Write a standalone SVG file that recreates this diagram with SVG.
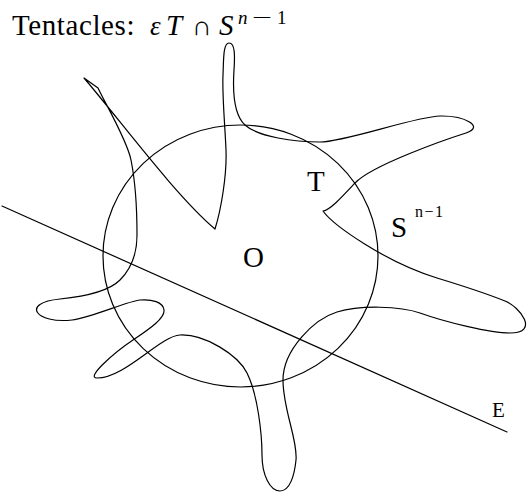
<svg xmlns="http://www.w3.org/2000/svg" width="527" height="493" viewBox="0 0 527 493">
<style>
.ln{fill:none;stroke:#000;stroke-width:1.2;stroke-linejoin:round;stroke-linecap:round}
.lbl{font-family:"Liberation Serif","DejaVu Serif",serif;fill:#000}
.it{font-style:italic}
</style>
<rect width="527" height="493" fill="#fff"/>
<g id="title">
<text class="lbl" font-size="29" y="35"><tspan x="12" letter-spacing="0.6">Tentacles:</tspan><tspan class="it" x="150" font-size="27">ε</tspan><tspan class="it" x="166">T</tspan><tspan x="192" font-size="27">∩</tspan><tspan class="it" x="219">S</tspan></text>
<text class="lbl" font-size="19" y="24"><tspan class="it" x="238">n</tspan><tspan x="252" textLength="20" lengthAdjust="spacingAndGlyphs">−</tspan><tspan x="277">1</tspan></text>
</g>
<g id="connectors">
<ellipse id="sphere" class="ln" cx="240.5" cy="256" rx="137.5" ry="131"/>
<line id="E-line" class="ln" x1="2" y1="206" x2="507" y2="432"/>
<path id="tentacles" class="ln" d="M215,229 C221,210 227,175 226,150 C225,125 222,95 223,75 C223.7,60 223,43 229,43 C235,43 235,55 234,70 C233,85 232,113 245,125 C258,137 295,142 320,142 C345,142 415,116.5 440,116 C465,115.5 485,127 466,133 C447,139 372,165 355,183 C341,198 330,210 323,211 C333,225 385,262 437,278 C460,285 490,295 505,301 C520,307 540,333 510,333 C490,333 445,322 420,313 C400,306 360,305 337,312 C314,319 283,350 283,380 C283,410 298,440 296,460 C294.5,475 290,491 280,491 C270,491 262,475 262,455 C262,435 258,395 247,373 C238,355 205,334 180,335 C160,336 125,378 97,378 C85,378 115,352 133,340 C151,328 165,318 164,310 C163,302 152,299 140,300 C128,301 90,318 72,320 C36,324 20,303 60,299 C90,296 110,290 120,280 C130,270 137,255 137,235 C137,205 135,180 131,160 C127,140 106,105 98,88 L84,78 C120,120 175,195 215,229 Z"/>
</g>
<g id="labels">
<text id="lbl-T" class="lbl" font-size="29" x="307" y="191">T</text>
<text id="lbl-O" class="lbl" font-size="29" x="243" y="267">O</text>
<text id="lbl-S" class="lbl" font-size="29" x="391" y="237">S</text>
<text id="lbl-n1" class="lbl" font-size="16" x="415" y="217" textLength="28">n−1</text>
<text id="lbl-E" class="lbl" font-size="21" x="492" y="417">E</text>
</g>
</svg>
